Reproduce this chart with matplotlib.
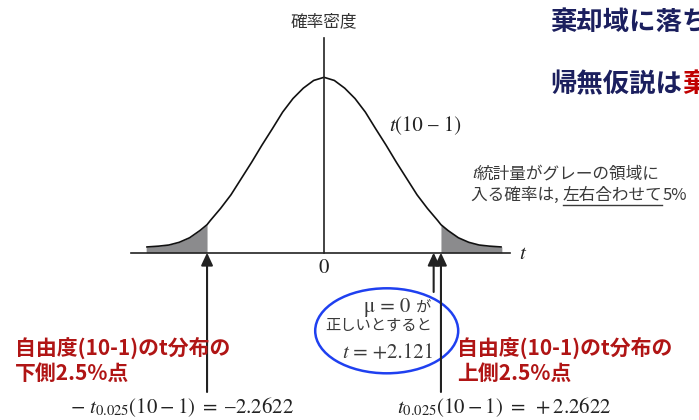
import matplotlib
matplotlib.use('Agg')
import matplotlib.pyplot as plt
from matplotlib.patches import Ellipse
import numpy as np

# t(10-1) density curve (right half; mirrored for the left)
t_half = [0.0, 0.2, 0.4, 0.6, 0.8, 1.0, 1.2, 1.4, 1.6, 1.8, 2.0, 2.2, 2.2622,
          2.4, 2.6, 2.8, 3.0, 3.2, 3.44]
dens_half = [0.388, 0.381, 0.364, 0.341, 0.311, 0.274, 0.238, 0.200, 0.164,
             0.128, 0.098, 0.071, 0.062, 0.049, 0.033, 0.023, 0.017, 0.0145, 0.0126]

t_crit = 2.2622      # t_0.025(10-1)
t_obs = 2.121        # observed t
axis_range = [-3.73, 3.60]

title_lines = ['棄却域に落ち', '帰無仮説は']
title_red = '棄'
note_line1 = '統計量がグレーの領域に'
note_line2 = ['入る確率は, ', '左右合わせて', '5%']
label_low = ['自由度(10-1)のt分布の', '下側2.5%点']
label_up = ['自由度(10-1)のt分布の', '上側2.5%点']

JP = ['Noto Sans CJK JP', 'DejaVu Sans']
SERIF = ['STIXGeneral', 'Liberation Serif', 'DejaVu Serif']
plt.rcParams['mathtext.fontset'] = 'stix'

W, H = 699, 420
X0, Y0 = 324, 252.7          # pixel position of t=0 on the axis
PX_T = 51.7                  # pixels per t unit
PX_D = 175.4 / 0.388         # pixels per density unit


def fx(px):
    return px / W


def fy(py):
    return 1 - py / H


def dy(py):
    # pixel row -> density coordinate
    return (Y0 - py) / PX_D


def chain(fig, r, x, y, pieces, underline=None):
    # put text pieces one after another on the same baseline
    out = []
    for s, kw in pieces:
        tx = fig.text(x, y, s, ha='left', va='baseline', **kw)
        bb = tx.get_window_extent(r)
        out.append(bb)
        x = bb.x1 / W
    return out


fig = plt.figure(figsize=(W / 100, H / 100), dpi=100)
ax = fig.add_axes([0, 0, 1, 1])
ax.set_xlim(-X0 / PX_T, (W - X0) / PX_T)
ax.set_ylim(-(H - Y0) / PX_D, Y0 / PX_D)
ax.axis('off')

t_half = np.array(t_half)
dens_half = np.array(dens_half)
curve_t = np.concatenate([-t_half[::-1], t_half[1:]])
curve_d = np.concatenate([dens_half[::-1], dens_half[1:]])

left = curve_t <= -t_crit + 1e-9
right = curve_t >= t_crit - 1e-9
ax.fill_between(curve_t[left], curve_d[left], 0, color='#8b8b8d', lw=0)
ax.fill_between(curve_t[right], curve_d[right], 0, color='#8b8b8d', lw=0)
ax.plot(curve_t, curve_d, color='#111111', lw=1.2, solid_capstyle='butt')

# axis lines
ax.plot(axis_range, [0, 0], color='#222222', lw=1.2)
ax.plot([0, 0], [0, dy(38)], color='#222222', lw=1.2)

ax.text(axis_range[1] + 0.17, 0, '$t$', fontsize=15, va='center', ha='left', color='#222')
fig.text(fx(324), fy(268), '0', fontsize=15, ha='center', va='center', color='#222',
         family=SERIF)
fig.text(fx(324), fy(22), '確率密度', fontsize=12, ha='center', va='center',
         color='#333', family=JP)

# arrows
arrow_kw = dict(arrowstyle='-|>,head_length=0.75,head_width=0.35', lw=1.5,
                color='#222222', shrinkA=0, shrinkB=0)
ax.annotate('', xy=(-t_crit, 0), xytext=(-t_crit, dy(392)), arrowprops=arrow_kw)
ax.annotate('', xy=(t_crit, 0), xytext=(t_crit, dy(392)), arrowprops=arrow_kw)
ax.annotate('', xy=(t_obs, 0), xytext=(t_obs, dy(292)), arrowprops=arrow_kw)

# blue ellipse
ax.add_patch(Ellipse(((386.7 - X0) / PX_T, dy(330.8)), 143 / PX_T, 85 / PX_D,
                     fill=False, edgecolor='#1f40f0', lw=1.8))

# red labels
red = '#b01515'
for x0, lab in [(15, label_low), (457, label_up)]:
    fig.text(fx(x0), fy(348), lab[0], fontsize=15, ha='left', va='center',
             color=red, weight='bold', family=JP)
    fig.text(fx(x0), fy(373), lab[1], fontsize=15, ha='left', va='center',
             color=red, weight='bold', family=JP)

# bottom formulas
fig.text(fx(70), fy(407), r'$-\ t_{0.025}(10-1)\ =\ –2.2622$', fontsize=15,
         ha='left', va='center', color='#222')
fig.text(fx(397), fy(407), r'$t_{0.025}(10-1)\ =\ +2.2622$', fontsize=15,
         ha='left', va='center', color='#222')

# headings (run off the right edge as in the slide)
navy = '#1b1f5e'
fig.text(fx(550), fy(22), title_lines[0], fontsize=19, ha='left', va='center',
         color=navy, weight='bold', family=JP)
h2 = fig.text(fx(550), fy(85), title_lines[1], fontsize=19, ha='left', va='center',
              color=navy, weight='bold', family=JP)

fig.canvas.draw()
r = fig.canvas.get_renderer()
bb = h2.get_window_extent(r)
fig.text(bb.x1 / W, fy(85), title_red, fontsize=19, ha='left', va='center',
         color='#c00000', weight='bold', family=JP)

# t(10-1) label by the curve
chain(fig, r, fx(389), fy(131), [
    ('t', dict(fontsize=15, style='italic', family=SERIF, color='#222')),
    ('(10 – 1)', dict(fontsize=15, family=SERIF, color='#222')),
])

# text inside the ellipse
gray = '#3a3a3a'
chain(fig, r, fx(364), fy(312), [
    ('μ = 0 ', dict(fontsize=15, family=SERIF, color=gray)),
    ('が', dict(fontsize=11, family=JP, color=gray)),
])
fig.text(fx(432), fy(325), '正しいとすると', fontsize=11, ha='right', va='center',
         color=gray, family=JP)
chain(fig, r, fx(342), fy(358), [
    ('t', dict(fontsize=15, style='italic', family=SERIF, color=gray)),
    (' = +2.121', dict(fontsize=15, family=SERIF, color=gray)),
])

# note about the grey area
bbs = chain(fig, r, fx(472), fy(178), [
    ('t', dict(fontsize=13, style='italic', family=SERIF, color=gray)),
    (note_line1, dict(fontsize=12, family=JP, color=gray)),
])
bbs = chain(fig, r, fx(471), fy(200), [
    (s, dict(fontsize=12, family=JP, color=gray)) for s in note_line2
])
fig.add_artist(plt.Line2D([bbs[1].x0 / W, bbs[1].x1 / W], [fy(205), fy(205)],
                          color=gray, lw=1.0))

fig.savefig('out.png', dpi=100)
